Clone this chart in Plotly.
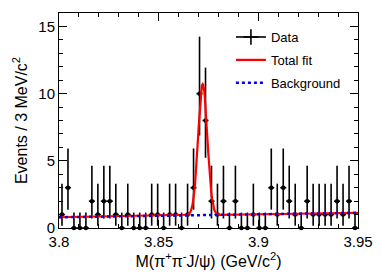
import numpy as np
import plotly.graph_objects as go

# ---- data (3 MeV bins from 3.80 to 3.95 GeV) ----
bin_low = 3.80
bin_width = 0.003
counts = [1, 3, 0, 0, 0, 2, 1, 2, 2, 1,
          0, 1, 0, 0, 0, 1, 1, 0, 1, 1,
          0, 1, 3, 10, 8, 2, 1, 2, 0, 2,
          0, 0, 1, 0, 0, 3, 1, 3, 2, 1,
          0, 2, 1, 1, 1, 1, 2, 1, 2, 0]

# Poisson (RooFit-style) 68% intervals per observed count
pois_lo = {0: 0.0, 1: 0.1727, 2: 0.7082, 3: 1.3672, 8: 5.2297, 10: 6.8817}
pois_hi = {0: 1.1478, 1: 3.2995, 2: 4.6379, 3: 5.9180, 8: 11.9349, 10: 14.2429}

# fit parameters
sig_mean = 3.8721
sig_sigma = 0.00228
sig_amp = 9.75
bkg_left = 0.80   # at 3.80
bkg_right = 1.13  # at 3.95

x_ticks = [3.8, 3.85, 3.9, 3.95]
x_tick_text = ["3.8", "3.85", "3.9", "3.95"]
y_ticks = [0, 5, 10, 15]

centers = [bin_low + (i + 0.5) * bin_width for i in range(len(counts))]
err_up = [pois_hi[n] - n for n in counts]
err_dn = [n - pois_lo[n] for n in counts]

xf = np.linspace(3.80, 3.95, 600)
bkg = bkg_left + (bkg_right - bkg_left) * (xf - 3.80) / 0.15
total = bkg + sig_amp * np.exp(-0.5 * ((xf - sig_mean) / sig_sigma) ** 2)

FONT = "Liberation Sans, Arial, Helvetica, sans-serif"

fig = go.Figure()
fig.add_trace(go.Scatter(
    x=centers, y=counts, mode="markers", showlegend=False,
    marker=dict(color="black", size=4.5, symbol="circle"),
    error_y=dict(type="data", symmetric=False, array=err_up, arrayminus=err_dn,
                 width=0, thickness=1.6, color="black"),
    error_x=dict(type="constant", value=bin_width / 2, width=0, thickness=1.6, color="black"),
    cliponaxis=False,
))
fig.add_trace(go.Scatter(
    x=xf, y=total, mode="lines", name="Total fit", showlegend=False,
    line=dict(color="#ff0000", width=2.2),
))
fig.add_trace(go.Scatter(
    x=xf, y=bkg, mode="lines", name="Background", showlegend=False,
    line=dict(color="#0000ff", width=2.5, dash="dot"),
))
# legend entries (each in its own group so the group gap sets the row spacing)
fig.add_trace(go.Scatter(
    x=[None], y=[None], mode="lines+markers", name="Data", legendgroup="g1",
    line=dict(color="black", width=1.6),
    marker=dict(color="black", size=11, symbol="cross-thin", line=dict(color="black", width=1.6)),
))
fig.add_trace(go.Scatter(
    x=[None], y=[None], mode="lines", name="Total fit", legendgroup="g2",
    line=dict(color="#ff0000", width=2.2),
))
fig.add_trace(go.Scatter(
    x=[None], y=[None], mode="lines", name="Background", legendgroup="g3",
    line=dict(color="#0000ff", width=2.5, dash="dot"),
))

axis_common = dict(
    showline=True, linecolor="black", linewidth=1, mirror="ticks",
    ticks="inside", ticklen=8, tickwidth=1, tickcolor="black",
    showgrid=False, zeroline=False, automargin=False,
    tickfont=dict(family=FONT, size=15, color="black"),
)

fig.update_xaxes(
    range=[3.80, 3.95], tickvals=x_ticks, ticktext=x_tick_text,
    minor=dict(dtick=0.01, tick0=3.8, ticks="inside", ticklen=4, tickcolor="black", tickwidth=1),
    title=dict(text="M(π<sup>+</sup>π<sup>-</sup>J/ψ) (GeV/c<sup>2</sup>)",
               font=dict(family=FONT, size=16, color="black"), standoff=2),
    **axis_common,
)
fig.update_yaxes(
    range=[0, 16], tickvals=y_ticks,
    minor=dict(dtick=1, tick0=0, ticks="inside", ticklen=4, tickcolor="black", tickwidth=1),
    title=dict(text="Events / 3 MeV/c<sup>2</sup>",
               font=dict(family=FONT, size=16, color="black"), standoff=6),
    **axis_common,
)

fig.update_layout(
    width=381, height=277,
    margin=dict(l=59, r=23, t=13, b=49, autoexpand=False),
    paper_bgcolor="white", plot_bgcolor="white",
    legend=dict(x=0.575, y=0.958, xanchor="left", yanchor="top",
                bgcolor="rgba(0,0,0,0)", font=dict(family=FONT, size=13, color="black"),
                itemwidth=30, tracegroupgap=3),
)

fig.write_html("out.html", config={"displayModeBar": False},
               post_script="document.body.style.margin='0';")
